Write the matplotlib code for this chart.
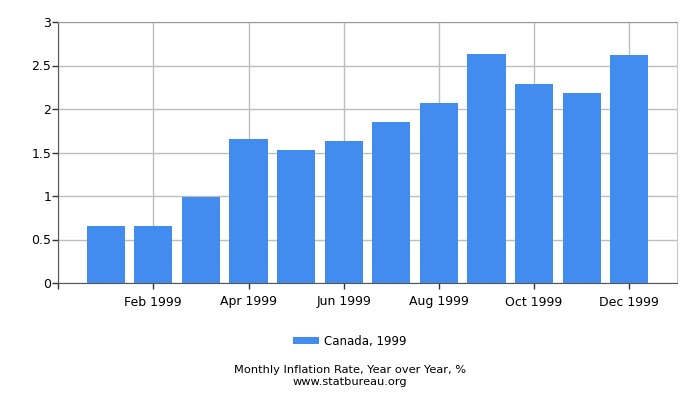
import matplotlib
matplotlib.use("Agg")
import matplotlib.pyplot as plt

# Canada, 1999 - monthly inflation rate (year over year, %)
months = ["Jan 1999", "Feb 1999", "Mar 1999", "Apr 1999", "May 1999", "Jun 1999",
          "Jul 1999", "Aug 1999", "Sep 1999", "Oct 1999", "Nov 1999", "Dec 1999"]
rates = [0.66, 0.66, 0.99, 1.65, 1.53, 1.63, 1.85, 2.07, 2.63, 2.29, 2.18, 2.62]
y_ticks = [0, 0.5, 1, 1.5, 2, 2.5, 3]
y_tick_labels = ["0", "0.5", "1", "1.5", "2", "2.5", "3"]

bar_color = "#428bef"
grid_color = "#bebebe"

fig = plt.figure(figsize=(7, 4), dpi=100)
ax = fig.add_axes([0.083, 0.2925, 0.884, 0.6525])

x = list(range(len(months)))
ax.bar(x, rates, width=0.8, color=bar_color, label="Canada, 1999", zorder=2)

ax.set_xlim(-1, len(months))
ax.set_ylim(0, 3)

# ticks: every second month gets a label, plus an unlabeled one at the left edge
xt = [-1] + x[1::2]
ax.set_xticks(xt)
ax.set_xticklabels([""] + months[1::2], fontsize=9)
ax.set_yticks(y_ticks)
ax.set_yticklabels(y_tick_labels, fontsize=9)
ax.tick_params(axis="both", length=4, width=1, color="#333333", pad=1)
ax.tick_params(axis="x", pad=5)

ax.grid(True, color=grid_color, linewidth=1, zorder=0)
ax.set_axisbelow(True)

ax.spines["left"].set_color("#555555")
ax.spines["bottom"].set_color("#555555")
ax.spines["top"].set_color("#999999")
ax.spines["right"].set_color("#c8c8c8")

fig.legend(loc="center", bbox_to_anchor=(0.5, 0.147), frameon=False, fontsize=8.5,
           handlelength=2.2, handleheight=0.6, handletextpad=0.4)

fig.text(0.5, 0.074, "Monthly Inflation Rate, Year over Year, %", ha="center", va="center", fontsize=8.2)
fig.text(0.5, 0.045, "www.statbureau.org", ha="center", va="center", fontsize=8.2)

fig.savefig("out.png", dpi=100)
